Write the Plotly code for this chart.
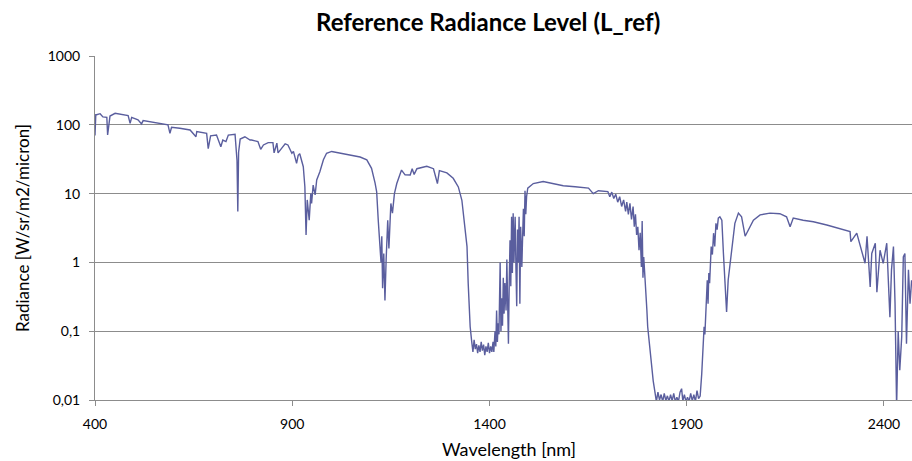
import plotly.graph_objects as go

# Wavelength [nm] and radiance [W/sr/m2/micron]
wavelength_nm = [
    400, 402, 404, 413, 420, 430, 432, 438, 451, 472, 484, 489, 493, 509, 518, 522,
    539, 556, 585, 590, 594, 615, 641, 656, 658, 683, 687, 693, 708, 719, 724, 732,
    738, 755, 760, 762, 764, 768, 780, 793,
    797, 813, 820, 827, 839, 851, 854, 861, 864, 882, 889, 899, 903, 911, 915, 919,
    924, 928, 932, 935, 938, 943, 947, 949, 953, 958, 962, 970, 979, 987, 1000, 1025,
    1051, 1072, 1089, 1101, 1110, 1114, 1118, 1122, 1125, 1127, 1129, 1132, 1135, 1138,
    1142, 1145, 1150, 1154, 1159, 1165, 1171, 1177, 1186,
    1199, 1204, 1209, 1216, 1241, 1258, 1268, 1273, 1292, 1308, 1321, 1330, 1334, 1338,
    1343, 1346, 1351,
    1355, 1358, 1361, 1364, 1367, 1370, 1373, 1376, 1379, 1382, 1385, 1388, 1391, 1394,
    1397, 1400, 1403, 1406, 1409, 1411, 1414, 1416, 1418, 1420, 1422, 1424, 1427, 1429,
    1431, 1433, 1435, 1437, 1439, 1442, 1444, 1446, 1448, 1450, 1452, 1454, 1456, 1458,
    1460, 1462, 1465, 1467, 1469, 1471, 1473, 1475, 1477, 1479, 1482, 1484, 1486, 1488,
    1490, 1492, 1494, 1497, 1503, 1511, 1536, 1562,
    1587, 1617, 1651, 1663, 1676, 1700, 1705, 1710, 1715, 1720, 1725, 1730, 1735, 1740,
    1745, 1748, 1752, 1756, 1760, 1764, 1767, 1770, 1773, 1776, 1779, 1782, 1785, 1787,
    1789, 1791, 1794, 1797, 1799, 1801, 1803, 1805, 1808, 1811, 1815, 1820,
    1823, 1827, 1831, 1835, 1839, 1843, 1847, 1851, 1855, 1859, 1863, 1867, 1871, 1875,
    1879, 1883, 1887, 1890, 1894, 1898, 1902, 1906, 1910, 1914, 1918, 1922, 1926, 1930,
    1934, 1938, 1940, 1942, 1944, 1946, 1948, 1950, 1952, 1954, 1956, 1958, 1960, 1962,
    1965, 1968, 1971, 1974, 1977, 1980, 1984, 1989, 1993, 1997,
    2001, 2005, 2010, 2014, 2022, 2031, 2039, 2048, 2056, 2069, 2086, 2111, 2136, 2153,
    2162, 2170, 2195, 2221, 2255, 2280, 2314, 2316, 2331, 2352, 2357, 2365, 2369, 2378,
    2382, 2390, 2398, 2407, 2415, 2419, 2424, 2428, 2432, 2436, 2440, 2445, 2449, 2453,
    2457, 2462, 2466, 2470,
]
radiance = [
    70, 140, 140, 145, 130, 128, 71, 134, 147, 140, 136, 105, 128, 118, 103, 115,
    111, 105, 100, 75, 92, 89, 84, 67, 80, 75, 45, 69, 71, 48, 60, 57,
    71, 73, 30, 5.5, 40, 62, 67, 60,
    60, 57, 44, 51, 55, 55, 39, 54, 39, 53, 51, 38.6, 41, 27.5, 36, 38,
    29, 24.6, 12.6, 2.5, 8.1, 4.1, 10, 7.2, 13.3, 9.6, 15.8, 20.8, 31, 38.6, 41, 38.6,
    36, 34, 31, 23.3, 14.2, 10.6, 4.1, 2.1, 1.0, 2.4, 0.42, 1.35, 0.28, 1.1,
    4.1, 1.6, 7.2, 5.2, 10, 14, 17.6, 22, 18.7,
    18.6, 23, 19, 23, 25, 23, 14, 21.6, 20, 16.7, 12.5, 8, 4.6, 2.66,
    1.7, 0.5, 0.116,
    0.07, 0.05, 0.075, 0.055, 0.065, 0.048, 0.062, 0.05, 0.07, 0.052, 0.064, 0.045, 0.06, 0.05,
    0.068, 0.048, 0.06, 0.05, 0.07, 0.05, 0.1, 0.06, 0.2, 0.07, 0.13, 0.09, 1.0, 0.1,
    0.3, 0.12, 0.6, 0.18, 0.5, 0.2, 1.1, 0.3, 0.066, 0.5, 2.1, 0.45, 4.6, 0.7,
    5.2, 1.0, 4.6, 0.86, 0.23, 3.0, 1.0, 4.6, 0.25, 3.3, 0.86, 2.4, 6, 2.4,
    11, 5, 9, 12, 13, 14, 15, 14,
    13, 12.6, 12, 10, 11, 10.7, 9, 10.5, 8.5, 9.8, 7.5, 9, 6.5, 8.1,
    5.5, 7.5, 5, 7.2, 4.2, 6.5, 3.3, 5, 2.5, 3.3, 1.5, 2.7, 0.86, 4,
    0.6, 1.2, 0.5, 0.3, 0.2, 0.116, 0.09, 0.06, 0.04, 0.028, 0.019, 0.0124,
    0.0095, 0.013, 0.01, 0.012, 0.0095, 0.0125, 0.0098, 0.0115, 0.0095, 0.012, 0.0097, 0.0125, 0.0095, 0.011,
    0.0095, 0.013, 0.0146, 0.0097, 0.012, 0.0095, 0.011, 0.0095, 0.0125, 0.0097, 0.012, 0.0095, 0.0137, 0.0105,
    0.0114, 0.024, 0.05, 0.06, 0.116, 0.09, 0.18, 0.4, 0.55, 0.25, 0.7, 0.5, 0.97, 1.7,
    1.3, 2.66, 1.7, 3.7, 3.0, 4.4, 4.6, 4.1, 1.35, 0.55,
    0.19, 0.55, 0.97, 1.7, 3.7, 5.2, 4.6, 2.4, 2.96, 4.1, 4.9, 5.2, 5.1, 4.6,
    3.3, 4.4, 4.1, 3.9, 3.5, 3.2, 2.8, 2.0, 2.66, 0.97, 2.4, 0.44, 1.35, 1.9,
    0.37, 1.5, 0.97, 1.9, 0.16, 0.78, 1.7, 0.25, 0.008, 0.1, 0.027, 0.084, 1.2, 1.35,
    0.066, 0.78, 0.25, 0.55,
]

x_ticks = [400, 900, 1400, 1900, 2400]
y_tickvals = [0.01, 0.1, 1, 10, 100, 1000]
y_ticktext = ["0,01", "0,1", "1", "10", "100", "1000"]

title_text = "Reference Radiance Level (L_ref)"
x_title = "Wavelength [nm]"
y_title = "Radiance [W/sr/m2/micron]"

FONT = "Lato, 'Open Sans', sans-serif"
GRID = "#8c8c8c"

fig = go.Figure()
fig.add_trace(go.Scatter(
    x=wavelength_nm, y=radiance, mode="lines",
    line=dict(color="#5A5E9E", width=1.4),
    hoverinfo="x+y", showlegend=False,
))

fig.update_layout(
    width=912, height=461,
    margin=dict(l=95, r=0, t=56, b=61),
    paper_bgcolor="white", plot_bgcolor="white",
    font=dict(family=FONT, size=14, color="#000000"),
    xaxis=dict(
        range=[400, 2471], tickvals=x_ticks, showgrid=False, zeroline=False,
        showline=True, linecolor=GRID, linewidth=1,
        ticks="outside", ticklen=5, tickcolor=GRID, ticklabelstandoff=6,
        tickfont=dict(family=FONT, size=14, color="#000"),
    ),
    yaxis=dict(
        type="log", range=[-2, 3], tickvals=y_tickvals, ticktext=y_ticktext,
        showgrid=True, gridcolor=GRID, gridwidth=1, zeroline=False,
        showline=True, linecolor=GRID, linewidth=1,
        ticks="outside", ticklen=5, tickcolor=GRID, ticklabelstandoff=6,
        tickfont=dict(family=FONT, size=14, color="#000"),
    ),
    annotations=[
        dict(text="<b>" + title_text + "</b>", xref="paper", yref="paper",
             x=0.481, y=1.099, xanchor="center", yanchor="middle",
             showarrow=False, font=dict(family=FONT, size=24, color="#000")),
        dict(text=x_title, xref="paper", yref="paper",
             x=0.507, y=-0.142, xanchor="center", yanchor="middle",
             showarrow=False, font=dict(family=FONT, size=18, color="#000")),
        dict(text=y_title, xref="paper", yref="paper", textangle=-90,
             x=-0.0894, y=0.5, xanchor="center", yanchor="middle",
             showarrow=False, font=dict(family=FONT, size=17, color="#000")),
    ],
)

fig.write_html("out.html")
